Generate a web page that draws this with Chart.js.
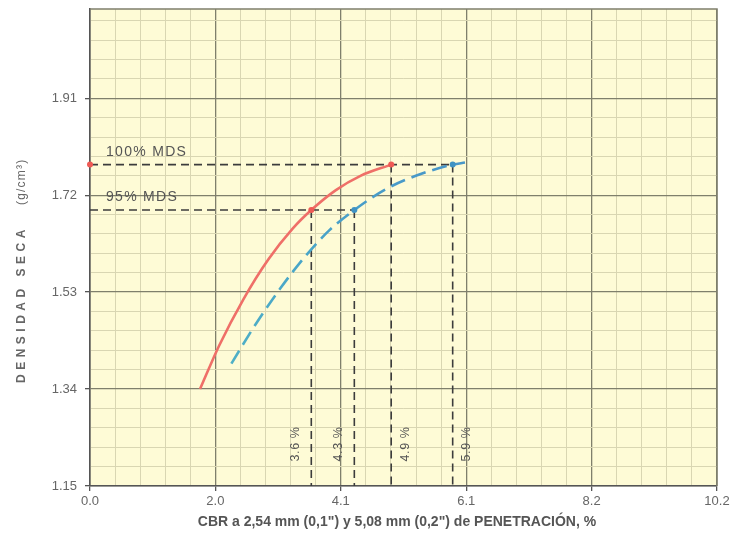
<!DOCTYPE html>
<html>
<head>
<meta charset="utf-8">
<script src="https://cdn.jsdelivr.net/npm/chart.js@4/dist/chart.umd.min.js"></script>
<style>
  html, body { margin: 0; background: #fff; }
  #wrap { width: 733px; height: 542px; }
</style>
</head>
<body>
<div id="wrap"><canvas id="cbr"></canvas></div>
<script>
// Densidad seca vs CBR at 0.1" and 0.2" penetration
const xTicks = [0, 2.04, 4.08, 6.12, 8.16, 10.2];
const xTickLabels = ['0.0', '2.0', '4.1', '6.1', '8.2', '10.2'];
const yTicks = [1.15, 1.34, 1.53, 1.72, 1.91];
const yTickLabels = ['1.15', '1.34', '1.53', '1.72', '1.91'];
const yTop = 2.085;

// 2,54 mm curve (solid red)
const redX = [1.79, 2.1, 2.5, 2.9, 3.3, 3.6, 4.0, 4.4, 4.9];
const redY = [1.34, 1.425, 1.517, 1.594, 1.655, 1.691, 1.730, 1.758, 1.78];
// 5,08 mm curve (dashed blue)
const blueX = [2.3, 2.7, 3.1, 3.5, 3.9, 4.3, 4.8, 5.3, 5.9, 6.1];
const blueY = [1.39, 1.468, 1.538, 1.600, 1.652, 1.691, 1.731, 1.758, 1.78, 1.784];

// MDS levels and the CBR read on each curve
const mdsLevels = [1.78, 1.691];
const mdsLabels = ['100% MDS', '95% MDS'];
const redCbr = [4.9, 3.6];
const blueCbr = [5.9, 4.3];

const FONT = '"Liberation Sans", Arial, sans-serif';
const PAPER = '#fefbd6';
const MAJOR = '#7f7f6c';
const MINOR = '#d9d6b2';
const GUIDE = '#3c3c3c';

function subdivide(majors, n, top) {
  const out = [];
  const step = (majors[1] - majors[0]) / n;
  for (let i = 0; i < majors.length - 1; i++) {
    for (let k = 0; k < n; k++) out.push(majors[i] + k * step);
  }
  let v = majors[majors.length - 1];
  while (v <= top + 1e-9) { out.push(v); v += step; }
  return out;
}

const xGrid = subdivide(xTicks, 5, xTicks[xTicks.length - 1]);
const yGrid = subdivide(yTicks, 5, yTop);

const pts = (xs, ys) => xs.map((x, i) => ({ x, y: ys[i] }));
const yMin = yTicks[0];

const guides = [];
mdsLevels.forEach((lv, i) => {
  guides.push([{ x: 0, y: lv }, { x: blueCbr[i], y: lv }]);
  guides.push([{ x: redCbr[i], y: lv }, { x: redCbr[i], y: yMin }]);
  guides.push([{ x: blueCbr[i], y: lv }, { x: blueCbr[i], y: yMin }]);
});

const guideSets = guides.map(d => ({
  data: d,
  borderColor: GUIDE,
  borderWidth: 1.6,
  borderDash: [8, 5],
  pointRadius: 0,
  order: 5
}));

const paper = {
  id: 'paper',
  beforeDraw(chart) {
    const { ctx, chartArea: a } = chart;
    ctx.save();
    ctx.fillStyle = PAPER;
    ctx.fillRect(a.left, a.top, a.right - a.left, a.bottom - a.top);
    ctx.restore();
  },
  afterDraw(chart) {
    const { ctx, chartArea: a, scales: { x, y } } = chart;
    ctx.save();
    // frame top / right
    ctx.strokeStyle = MAJOR;
    ctx.lineWidth = 1.5;
    ctx.beginPath();
    ctx.moveTo(a.left, a.top);
    ctx.lineTo(a.right, a.top);
    ctx.lineTo(a.right, a.bottom);
    ctx.stroke();

    // MDS labels
    ctx.fillStyle = '#555';
    ctx.font = '14px ' + FONT;
    ctx.letterSpacing = '1.3px';
    ctx.textAlign = 'left';
    ctx.textBaseline = 'alphabetic';
    mdsLevels.forEach((lv, i) => {
      ctx.fillText(mdsLabels[i], a.left + 16, y.getPixelForValue(lv) - 9);
    });

    // CBR values next to the vertical guides
    ctx.font = '12.5px ' + FONT;
    ctx.letterSpacing = '0.6px';
    ctx.textAlign = 'center';
    ctx.textBaseline = 'middle';
    const side = [14, -16];
    mdsLevels.forEach((lv, i) => {
      [redCbr[i], blueCbr[i]].forEach(c => {
        ctx.save();
        ctx.translate(x.getPixelForValue(c) + side[i], a.bottom - 42);
        ctx.rotate(-Math.PI / 2);
        ctx.fillText(c.toFixed(1) + ' %', 0, 0);
        ctx.restore();
      });
    });

    // axis titles
    ctx.fillStyle = '#555';
    ctx.font = 'bold 14px ' + FONT;
    ctx.letterSpacing = '0px';
    ctx.textAlign = 'center';
    ctx.textBaseline = 'middle';
    ctx.fillText('CBR a 2,54 mm (0,1") y 5,08 mm (0,2") de PENETRACIÓN, %', 397, 522);

    ctx.save();
    ctx.translate(22, a.bottom - 103);
    ctx.rotate(-Math.PI / 2);
    ctx.textAlign = 'left';
    ctx.fillStyle = '#666';
    ctx.font = 'bold 12px ' + FONT;
    ctx.letterSpacing = '4.5px';
    ctx.fillText('DENSIDAD SECA', 0, 0);
    ctx.font = '12px ' + FONT;
    ctx.letterSpacing = '1.2px';
    ctx.fillText('(g/cm³)', 178, 0);
    ctx.restore();

    ctx.restore();
  }
};

const gridOpts = {
  color: c => (c.index % 5 === 0 ? MAJOR : MINOR),
  lineWidth: c => (c.index % 5 === 0 ? 1.3 : 1),
  tickColor: c => (c.index % 5 === 0 ? '#555' : 'rgba(0,0,0,0)'),
  tickLength: 5,
  tickWidth: 1.3
};

new Chart(document.getElementById('cbr'), {
  type: 'line',
  data: {
    datasets: [
      {
        data: pts(redX, redY),
        borderColor: '#ef6f68',
        borderWidth: 2.6,
        pointRadius: 0,
        cubicInterpolationMode: 'monotone',
        order: 2
      },
      {
        data: pts(blueX, blueY),
        borderColor: c => {
          const a = c.chart.chartArea;
          if (!a) return '#4aa6c8';
          const g = c.chart.ctx.createLinearGradient(0, a.bottom, 0, a.top);
          g.addColorStop(0, '#56bcc4');
          g.addColorStop(0.5, '#48a4c8');
          g.addColorStop(1, '#4a7fca');
          return g;
        },
        borderWidth: 2.6,
        borderDash: [15, 7],
        pointRadius: 0,
        cubicInterpolationMode: 'monotone',
        order: 3
      },
      ...guideSets,
      {
        data: [{ x: 0, y: mdsLevels[0] }, ...mdsLevels.map((lv, i) => ({ x: redCbr[i], y: lv }))],
        showLine: false,
        pointRadius: 3,
        pointBackgroundColor: '#ef5a55',
        pointBorderWidth: 0,
        clip: false,
        order: 1
      },
      {
        data: mdsLevels.map((lv, i) => ({ x: blueCbr[i], y: lv })),
        showLine: false,
        pointRadius: 3,
        pointBackgroundColor: '#3f93c4',
        pointBorderWidth: 0,
        clip: false,
        order: 1
      }
    ]
  },
  options: {
    responsive: true,
    maintainAspectRatio: false,
    animation: false,
    layout: { padding: { top: 9, right: 16, left: 0, bottom: 0 } },
    plugins: {
      legend: { display: false },
      tooltip: { enabled: false }
    },
    scales: {
      x: {
        type: 'linear',
        min: xTicks[0],
        max: xTicks[xTicks.length - 1],
        afterBuildTicks: s => { s.ticks = xGrid.map(v => ({ value: v })); },
        afterFit: s => { s.height = 56; s.paddingLeft = 0; s.paddingRight = 0; },
        ticks: {
          autoSkip: false,
          maxRotation: 0,
          padding: 3,
          color: '#666',
          font: { family: FONT, size: 13 },
          callback: (v, i) => (i % 5 === 0 ? xTickLabels[i / 5] : '')
        },
        grid: gridOpts,
        border: { display: true, color: '#555', width: 1.6 }
      },
      y: {
        type: 'linear',
        min: yMin,
        max: yTop,
        afterBuildTicks: s => { s.ticks = yGrid.map(v => ({ value: v })); },
        afterFit: s => { s.width = 90; s.paddingTop = 0; s.paddingBottom = 0; },
        ticks: {
          autoSkip: false,
          padding: 8,
          color: '#666',
          font: { family: FONT, size: 13 },
          callback: (v, i) => (i % 5 === 0 && yTickLabels[i / 5] ? yTickLabels[i / 5] : '')
        },
        grid: gridOpts,
        border: { display: true, color: '#555', width: 1.6 }
      }
    }
  },
  plugins: [paper]
});
</script>
</body>
</html>
